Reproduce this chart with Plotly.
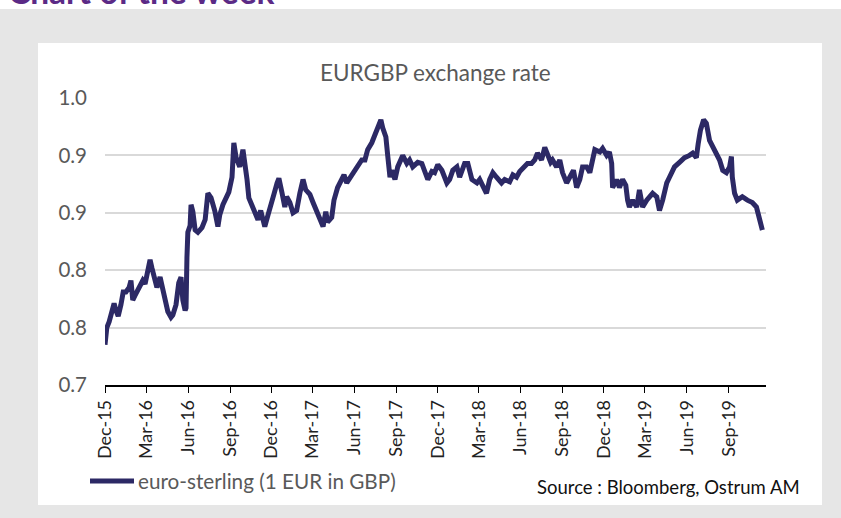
import plotly.graph_objects as go

dates = [
"2015-12-01","2015-12-05","2015-12-10","2015-12-16","2015-12-21","2015-12-25","2015-12-30",
"2016-01-05","2016-01-10","2016-01-16","2016-01-23","2016-01-27","2016-01-31","2016-02-05",
"2016-02-11","2016-02-18","2016-02-22","2016-02-27","2016-03-04","2016-03-09","2016-03-13",
"2016-03-20","2016-03-24","2016-03-31","2016-04-06","2016-04-13","2016-04-17","2016-04-24",
"2016-04-28","2016-05-05","2016-05-11","2016-05-16","2016-05-20","2016-05-25","2016-05-27",
"2016-05-29","2016-05-31","2016-06-05","2016-06-07","2016-06-11","2016-06-16","2016-06-22",
"2016-07-01","2016-07-08","2016-07-14","2016-07-21","2016-07-29","2016-08-05","2016-08-09",
"2016-08-16","2016-08-23","2016-08-29","2016-09-05","2016-09-07","2016-09-09","2016-09-14",
"2016-09-18","2016-09-22","2016-09-29","2016-10-03","2016-10-08","2016-10-12","2016-10-19",
"2016-10-25","2016-11-01","2016-11-07","2016-11-12","2016-11-16","2016-11-23","2016-11-29",
"2016-12-06","2016-12-13","2016-12-17","2016-12-24","2016-12-30","2017-01-03","2017-01-10",
"2017-01-17","2017-01-25","2017-02-01","2017-02-08","2017-02-14","2017-02-23","2017-03-02",
"2017-03-10","2017-03-17","2017-03-24","2017-03-30","2017-04-03","2017-04-12","2017-04-17",
"2017-04-25","2017-05-02","2017-05-09","2017-05-15","2017-05-24","2017-06-02","2017-06-08",
"2017-06-17","2017-06-24","2017-06-30","2017-07-09","2017-07-18","2017-07-24","2017-07-29",
"2017-08-02","2017-08-09","2017-08-13","2017-08-18","2017-08-22","2017-08-29","2017-09-04",
"2017-09-11","2017-09-15","2017-09-24","2017-09-30","2017-10-07","2017-10-18","2017-10-27",
"2017-11-02","2017-11-09","2017-11-18","2017-11-24","2017-12-01","2017-12-10","2017-12-21",
"2017-12-27","2018-01-03","2018-01-12","2018-01-18","2018-01-29","2018-02-05","2018-02-14",
"2018-02-25","2018-03-03","2018-03-08","2018-03-18","2018-03-25","2018-04-01","2018-04-09",
"2018-04-20","2018-04-27","2018-05-08","2018-05-15","2018-05-23","2018-05-30","2018-06-10",
"2018-06-16","2018-06-25","2018-07-02","2018-07-08","2018-07-17","2018-07-24","2018-07-30",
"2018-08-06","2018-08-10","2018-08-19","2018-08-26","2018-09-01","2018-09-10","2018-09-17",
"2018-09-25","2018-10-02","2018-10-09","2018-10-15","2018-10-24","2018-10-31","2018-11-06",
"2018-11-11","2018-11-22","2018-11-28","2018-12-07","2018-12-13","2018-12-18","2018-12-20",
"2018-12-29","2019-01-04","2019-01-11","2019-01-18","2019-01-22","2019-01-26","2019-02-02",
"2019-02-11","2019-02-17","2019-02-24","2019-03-05","2019-03-11","2019-03-18","2019-03-27",
"2019-04-02","2019-04-09","2019-04-18","2019-04-24","2019-05-05","2019-05-16","2019-05-27",
"2019-06-07","2019-06-14","2019-06-20","2019-06-22","2019-06-26","2019-07-01","2019-07-08",
"2019-07-14","2019-07-21","2019-07-28","2019-08-05","2019-08-12","2019-08-19","2019-08-27",
"2019-09-03","2019-09-07","2019-09-09","2019-09-14","2019-09-20","2019-10-01","2019-10-12",
"2019-10-23","2019-11-01","2019-11-08","2019-11-12","2019-11-14",
]

eurgbp = [
0.735,0.750,0.755,0.765,0.771,0.765,0.760,
0.770,0.781,0.781,0.785,0.791,0.774,0.778,
0.783,0.790,0.791,0.788,0.800,0.809,0.802,
0.790,0.785,0.794,0.784,0.770,0.764,0.759,
0.761,0.770,0.789,0.794,0.774,0.765,0.767,
0.811,0.833,0.839,0.857,0.851,0.835,0.833,
0.837,0.844,0.867,0.863,0.852,0.838,0.848,
0.857,0.863,0.868,0.881,0.900,0.911,0.898,
0.892,0.890,0.905,0.896,0.879,0.863,0.857,
0.851,0.844,0.852,0.844,0.838,0.848,0.855,
0.866,0.876,0.880,0.867,0.855,0.864,0.859,
0.850,0.852,0.867,0.879,0.870,0.866,0.859,
0.852,0.846,0.838,0.851,0.842,0.846,0.861,
0.872,0.877,0.883,0.876,0.881,0.887,0.890,
0.896,0.896,0.905,0.911,0.920,0.926,0.931,
0.924,0.916,0.900,0.881,0.887,0.879,0.890,
0.898,0.900,0.893,0.896,0.890,0.894,0.893,
0.885,0.879,0.886,0.885,0.892,0.887,0.876,
0.879,0.887,0.890,0.881,0.893,0.893,0.879,
0.876,0.879,0.875,0.867,0.879,0.885,0.881,
0.876,0.879,0.877,0.883,0.881,0.886,0.890,
0.893,0.893,0.896,0.902,0.896,0.907,0.902,
0.894,0.896,0.890,0.896,0.885,0.876,0.881,
0.887,0.872,0.879,0.890,0.890,0.885,0.899,
0.905,0.903,0.906,0.900,0.903,0.893,0.872,
0.879,0.872,0.879,0.874,0.861,0.855,0.861,
0.855,0.870,0.855,0.861,0.864,0.867,0.864,
0.852,0.861,0.876,0.881,0.890,0.894,0.898,
0.900,0.902,0.899,0.898,0.910,0.922,0.931,
0.928,0.913,0.907,0.902,0.896,0.887,0.885,
0.890,0.899,0.881,0.867,0.861,0.864,0.861,
0.859,0.855,0.846,0.841,0.835,
]

y_tick_vals = [0.70, 0.75, 0.80, 0.85, 0.90, 0.95]
y_tick_text = ["0.7", "0.8", "0.8", "0.9", "0.9", "1.0"]

chart_title = "EURGBP exchange rate"
series_name = "euro-sterling (1 EUR in GBP)"
source_text = "Source : Bloomberg, Ostrum AM"
header_text = "Chart of the week"

LINE = "#2c2965"
FONT = "Lato"

W, H = 841, 518
L, R, T, B = 105, 75, 98, 133
PW, PH = W - L - R, H - T - B

def px(x):
    return (x - L) / PW

def py(y):
    return (H - B - y) / PH

fig = go.Figure()
fig.add_trace(go.Scatter(
    x=dates, y=eurgbp, mode="lines", name=series_name,
    line=dict(color=LINE, width=5), showlegend=False, hoverinfo="skip",
))

shapes = [
    dict(type="rect", xref="paper", yref="paper", x0=px(0), x1=px(W), y0=py(9), y1=py(H),
         fillcolor="#e6e6e6", line=dict(width=0), layer="below"),
    dict(type="rect", xref="paper", yref="paper", x0=px(38), x1=px(822), y0=py(43), y1=py(505),
         fillcolor="white", line=dict(width=0), layer="below"),
    dict(type="line", xref="paper", yref="paper", x0=px(90), x1=px(134), y0=py(481), y1=py(481),
         line=dict(color=LINE, width=5)),
]

annotations = [
    dict(text=chart_title, xref="paper", yref="paper", x=0.5, y=py(72), showarrow=False,
         xanchor="center", yanchor="middle", font=dict(family=FONT, size=22.5, color="#595959")),
    dict(text=series_name, xref="paper", yref="paper", x=px(136), y=py(481), showarrow=False,
         xanchor="left", yanchor="middle", font=dict(family=FONT, size=20.7, color="#595959")),
    dict(text=source_text, xref="paper", yref="paper", x=px(802), y=py(487), showarrow=False,
         xanchor="right", yanchor="middle", font=dict(family=FONT, size=18.5, color="#111111")),
    dict(text="<b>" + header_text + "</b>", xref="paper", yref="paper", x=px(6), y=py(-9),
         showarrow=False, xanchor="left", yanchor="middle",
         font=dict(family=FONT, size=33.5, color="#5b2a86")),
]

fig.update_layout(
    width=W, height=H,
    margin=dict(l=L, r=R, t=T, b=B, pad=0),
    paper_bgcolor="white", plot_bgcolor="rgba(0,0,0,0)",
    shapes=shapes, annotations=annotations,
    showlegend=False,
    font=dict(family=FONT),
)
fig.update_xaxes(
    type="date", range=["2015-12-01", "2019-11-22"],
    tick0="2015-12-01", dtick="M3", tickformat="%b-%y", tickangle=-90,
    showgrid=False, showline=True, linecolor="#000000", linewidth=1.5,
    ticks="outside", ticklen=6, tickcolor="#000000", tickwidth=1.2,
    tickfont=dict(family=FONT, size=18, color="#222222"),
    zeroline=False,
)
fig.update_yaxes(
    range=[0.70, 0.95], tickvals=y_tick_vals, ticktext=y_tick_text,
    showgrid=True, gridcolor="#d9d9d9", gridwidth=1.5,
    showline=False, ticks="", ticklabelstandoff=17,
    tickfont=dict(family=FONT, size=20.5, color="#595959"),
    zeroline=False,
)

fig.write_html("out.html", config={"displayModeBar": False},
               post_script="document.body.style.margin='0px';")
